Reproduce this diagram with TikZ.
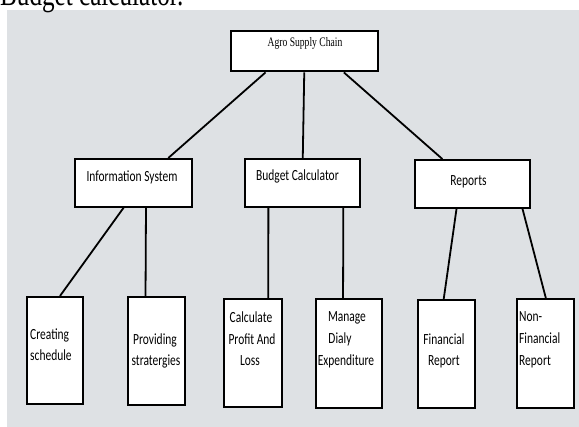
\documentclass[tikz,border=0pt]{standalone}
\usepackage{fontspec}
\setmainfont{Carlito}[FakeStretch=0.74]
\newfontfamily\tnr{Liberation Serif}[FakeStretch=0.74]
\usetikzlibrary{calc}
\definecolor{bg}{RGB}{222,225,228}
\tikzset{
  box/.style={draw=black, fill=white, line width=1.6pt, inner sep=0pt, anchor=north west},
  tbox/.style={box, line width=2.4pt},
  lbl/.style={inner sep=0pt, anchor=base, font=\fontsize{15.5}{18}\selectfont},
  lblw/.style={lbl, anchor=base west},
  link/.style={line width=1.8pt, draw=black},
}
\begin{document}
\begin{tikzpicture}[x=1pt, y=-1pt]
\useasboundingbox (0,0) rectangle (579,427);
\clip (0,0) rectangle (579,427);
\fill[bg] (7,10) rectangle (579,427);
\node[inner sep=0pt, anchor=base west, font=\tnr\fontsize{34}{38}\selectfont] (cap) at (0,6) {Budget calculator.};

% level 1
\node[tbox, minimum width=147pt, minimum height=40pt] (top) at (230,30) {};
\node[inner sep=0pt, anchor=base, font=\tnr\fontsize{13}{15}\selectfont] (toptxt) at (305,47) {Agro Supply Chain};

% level 2
\node[box, minimum width=117pt, minimum height=48pt] (is) at (74,158) {};
\node[box, minimum width=115pt, minimum height=48pt] (bc) at (244,158) {};
\node[box, minimum width=115pt, minimum height=48pt] (rp) at (414,159) {};
\node[lbl] (istxt) at (132,182) {Information System};
\node[lbl] (bctxt) at (297.5,181) {Budget Calculator};
\node[lbl] (rptxt) at (468.5,186) {Reports};

% level 3
\node[box, minimum width=56pt, minimum height=107pt] (cs) at (26,296) {};
\node[box, minimum width=57pt, minimum height=108pt] (ps) at (127,296) {};
\node[box, minimum width=58pt, minimum height=108pt] (cpl) at (223,298) {};
\node[tbox, minimum width=66pt, minimum height=109pt] (mde) at (315,298) {};
\node[box, minimum width=57pt, minimum height=108pt] (fr) at (417,299) {};
\node[box, minimum width=57pt, minimum height=109pt] (nfr) at (516,298) {};

\node[lblw] (cs1) at (30,340) {Creating};
\node[lblw] (cs2) at (30,361) {schedule};
\node[lbl] (ps1) at (155,345) {Providing};
\node[lbl] (ps2) at (156,366) {stratergies};
\node[lbl] (cp1) at (251,323) {Calculate};
\node[lbl] (cp2) at (252,345) {Profit And};
\node[lbl] (cp3) at (250,366) {Loss};
\node[lbl] (md1) at (347,322) {Manage};
\node[lbl] (md2) at (340,344) {Dialy};
\node[lbl] (md3) at (346,366) {Expenditure};
\node[lbl] (fr1) at (444,345) {Financial};
\node[lbl] (fr2) at (444,366) {Report};
\node[lblw] (nf1) at (519,322) {Non-};
\node[lblw] (nf2) at (519,344) {Financial};
\node[lblw] (nf3) at (519,366) {Report};

% connectors
\draw[link] ($(top.south west)!0.238!(top.south east)$) -- ($(is.north west)!0.795!(is.north east)$);
\draw[link] ($(top.south west)!0.497!(top.south east)$) -- ($(bc.north west)!0.504!(bc.north east)$);
\draw[link] ($(top.south west)!0.762!(top.south east)$) -- ($(rp.north west)!0.243!(rp.north east)$);

\draw[link] ($(is.south west)!0.419!(is.south east)$) -- ($(cs.north west)!0.59!(cs.north east)$);
\draw[link] ($(is.south west)!0.607!(is.south east)$) -- ($(ps.north west)!0.316!(ps.north east)$);
\draw[link] ($(bc.south west)!0.209!(bc.south east)$) -- ($(cpl.north west)!0.76!(cpl.north east)$);
\draw[link] ($(bc.south west)!0.852!(bc.south east)$) -- ($(mde.north west)!0.41!(mde.north east)$);
\draw[link] ($(rp.south west)!0.365!(rp.south east)$) -- ($(fr.north west)!0.456!(fr.north east)$);
\draw[link] ($(rp.south west)!0.93!(rp.south east)$) -- ($(nfr.north west)!0.509!(nfr.north east)$);
\end{tikzpicture}
\end{document}
